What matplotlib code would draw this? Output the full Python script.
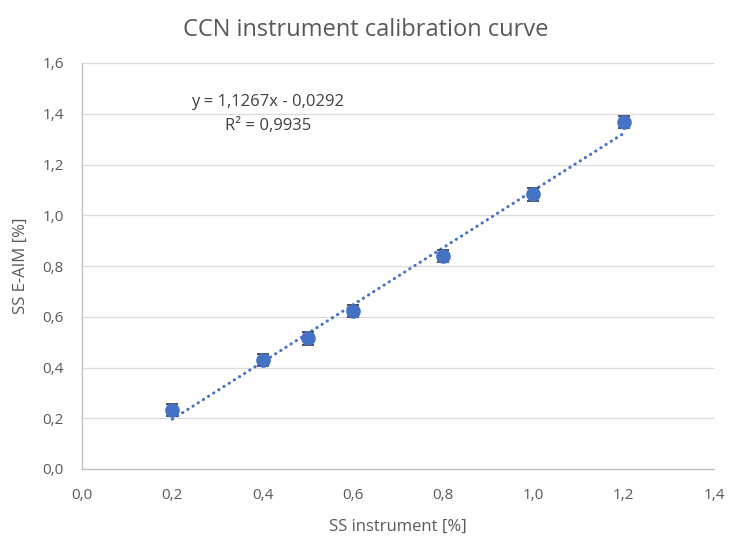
import numpy as np
from matplotlib import pyplot as plt

# Data
ss_instrument = [0.2, 0.4, 0.5, 0.6, 0.8, 1.0, 1.2]
ss_eaim = [0.232, 0.430, 0.515, 0.623, 0.839, 1.083, 1.367]
ss_err = [0.025, 0.025, 0.025, 0.025, 0.025, 0.025, 0.025]

# Trendline as reported in the chart
slope = 1.1267
intercept = -0.0292
r_squared = 0.9935

x_ticks = [0.0, 0.2, 0.4, 0.6, 0.8, 1.0, 1.2, 1.4]
y_ticks = [0.0, 0.2, 0.4, 0.6, 0.8, 1.0, 1.2, 1.4, 1.6]

plt.rcParams['font.family'] = ['Open Sans', 'DejaVu Sans']

fig = plt.figure(figsize=(7.32, 5.4), dpi=100)
ax = fig.add_axes([82 / 732, 1 - 469 / 540, (714 - 82) / 732, (469 - 63) / 540])

# Grid
ax.set_axisbelow(True)
ax.yaxis.grid(True, color='#d9d9d9', linewidth=0.9)
ax.xaxis.grid(False)

# Trendline (dotted)
x_fit = np.array([ss_instrument[0], ss_instrument[-1]])
ax.plot(x_fit, slope * x_fit + intercept, linestyle=(0, (0.1, 1.9)),
        color='#4472c4', linewidth=2.2, dash_capstyle='round', zorder=2)

# Points with error bars
ax.errorbar(ss_instrument, ss_eaim, yerr=ss_err, fmt='o', color='#4472c4',
            markersize=9.5, ecolor='#404040', elinewidth=1.2, capsize=4.5,
            capthick=1.3, zorder=3)

ax.set_xlim(0, 1.4)
ax.set_ylim(0, 1.6)
ax.set_xticks(x_ticks)
ax.set_yticks(y_ticks)
ax.set_xticklabels([f'{v:.1f}'.replace('.', ',') for v in x_ticks])
ax.set_yticklabels([f'{v:.1f}'.replace('.', ',') for v in y_ticks])
ax.tick_params(length=0, labelsize=11, colors='#595959')
ax.tick_params(axis='x', pad=14)
ax.tick_params(axis='y', pad=13)

for side in ('top', 'right'):
    ax.spines[side].set_visible(False)
for side in ('left', 'bottom'):
    ax.spines[side].set_color('#bfbfbf')
    ax.spines[side].set_linewidth(0.9)

ax.set_xlabel('SS instrument [%]', fontsize=12, color='#595959', labelpad=11)
ax.set_ylabel('SS E-AIM [%]', fontsize=12, color='#595959', labelpad=10)

fig.text(0.5, 1 - 30 / 540, 'CCN instrument calibration curve',
         ha='center', va='center', fontsize=17, color='#595959')

ax.text(0.412, 1.445, f'y = {slope:.4f}x - {abs(intercept):.4f}'.replace('.', ','),
        ha='center', va='center', fontsize=12, color='#404040')
ax.text(0.412, 1.35, f'R² = {r_squared:.4f}'.replace('.', ','),
        ha='center', va='center', fontsize=12, color='#404040')

fig.savefig('out.png', dpi=100)
